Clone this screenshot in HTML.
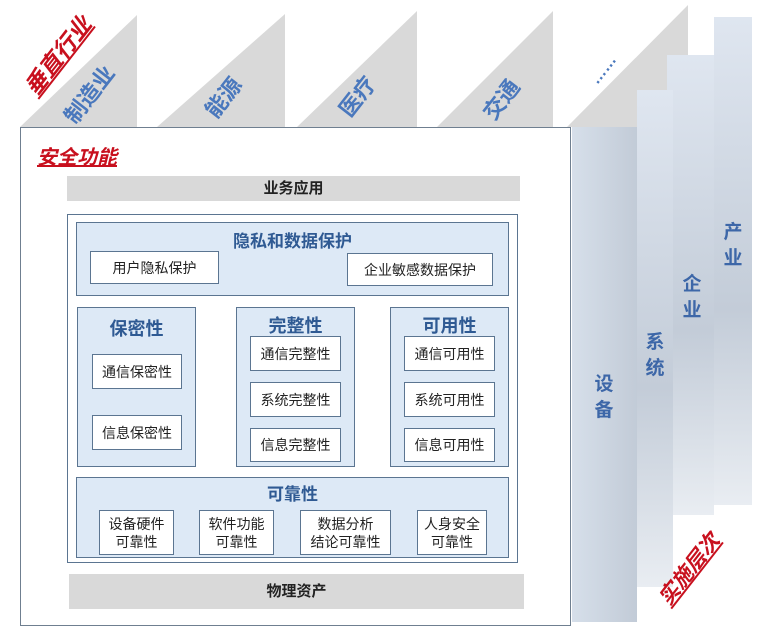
<!DOCTYPE html>
<html><head><meta charset="utf-8"><style>
body{margin:0;width:776px;height:637px;background:#fff;position:relative;overflow:hidden;font-family:"Liberation Sans","Noto Sans CJK SC",sans-serif}
.a{position:absolute;box-sizing:border-box}
.bx{position:absolute;box-sizing:border-box;border:1.5px solid #5b7591;background:#fff;color:#222;font-size:14px;display:flex;align-items:center;justify-content:center;text-align:center;line-height:18px}
.pn{position:absolute;box-sizing:border-box;border:1.5px solid #5b7591;background:#dde9f6}
.t{position:absolute;color:#2f5a93;font-weight:bold;font-size:18px;text-align:center}
.rot{position:absolute;color:#4a78bd;font-weight:bold;font-size:22px;transform:translate(-50%,-50%) rotate(-52deg);white-space:nowrap;line-height:24px}
.vt{position:absolute;color:#3d67a8;font-weight:bold;font-size:19px;width:22px;line-height:26px;text-align:center}
</style></head><body>
<svg class="a" style="left:0;top:0" width="776" height="637">
<defs>
<linearGradient id="g" x1="0" y1="0" x2="0" y2="1"><stop offset="0" stop-color="#dfe6f0"/><stop offset="0.6" stop-color="#c3ccd8"/><stop offset="1" stop-color="#e9edf2"/></linearGradient>
<linearGradient id="g2" x1="0" y1="0" x2="1" y2="0"><stop offset="0" stop-color="#d6dfea"/><stop offset="1" stop-color="#c2cbd7"/></linearGradient>
</defs>
<polygon points="20,127 137,15 137,127" fill="#d9d9d9"/>
<polygon points="157,127 285,14 285,127" fill="#d9d9d9"/>
<polygon points="297,127 417,11 417,127" fill="#d9d9d9"/>
<polygon points="437,127 553,11 553,127" fill="#d9d9d9"/>
<polygon points="567,127 688,5 688,127" fill="#d9d9d9"/>
<rect x="714" y="17" width="38" height="488" fill="url(#g)"/>
<rect x="667" y="55" width="47" height="460" fill="url(#g)"/>
<rect x="637" y="90" width="36" height="497" fill="url(#g)"/>
<rect x="572" y="127" width="65" height="495" fill="url(#g2)"/>
</svg>
<div class="rot" style="left:58px;top:56px;color:#c8101e;font-style:italic;text-decoration:underline;font-size:23px">垂直行业</div>
<div class="rot" style="left:90px;top:95px">制造业</div>
<div class="rot" style="left:224px;top:98px">能源</div>
<div class="rot" style="left:358px;top:97px">医疗</div>
<div class="rot" style="left:502px;top:100px">交通</div>
<div class="rot" style="left:604px;top:70px;font-size:16px">……</div>
<div class="vt" style="left:593px;top:372px">设备</div>
<div class="vt" style="left:644px;top:330px">系统</div>
<div class="vt" style="left:681px;top:272px">企业</div>
<div class="vt" style="left:722px;top:220px">产业</div>
<div class="rot" style="left:690px;top:570px;color:#c8101e;font-style:italic;text-decoration:underline;font-size:21px">实施层次</div>

<div class="a" style="left:20px;top:127px;width:551px;height:499px;border:1.5px solid #6f7f90;background:#fff"></div>
<div class="a" style="left:37px;top:141px;color:#c8101e;font-style:italic;font-weight:bold;font-size:20px;text-decoration:underline">安全功能</div>
<div class="a" style="left:67px;top:176px;width:453px;height:25px;background:#d9d9d9;font-weight:bold;font-size:15px;text-align:center;line-height:25px;color:#222">业务应用</div>
<div class="pn" style="left:67px;top:214px;width:451px;height:349px;background:#fff"></div>
<div class="pn" style="left:76px;top:222px;width:433px;height:74px"></div>
<div class="t" style="left:76px;top:227px;width:433px;font-size:17px">隐私和数据保护</div>
<div class="bx" style="left:90px;top:251px;width:129px;height:33px">用户隐私保护</div>
<div class="bx" style="left:347px;top:253px;width:146px;height:33px">企业敏感数据保护</div>

<div class="pn" style="left:77px;top:307px;width:119px;height:160px"></div>
<div class="t" style="left:77px;top:315px;width:119px">保密性</div>
<div class="bx" style="left:92px;top:354px;width:90px;height:35px">通信保密性</div>
<div class="bx" style="left:92px;top:415px;width:90px;height:35px">信息保密性</div>

<div class="pn" style="left:236px;top:307px;width:119px;height:160px"></div>
<div class="t" style="left:236px;top:312px;width:119px">完整性</div>
<div class="bx" style="left:250px;top:336px;width:91px;height:35px">通信完整性</div>
<div class="bx" style="left:250px;top:382px;width:91px;height:35px">系统完整性</div>
<div class="bx" style="left:250px;top:428px;width:91px;height:34px">信息完整性</div>

<div class="pn" style="left:390px;top:307px;width:119px;height:160px"></div>
<div class="t" style="left:390px;top:312px;width:119px">可用性</div>
<div class="bx" style="left:404px;top:336px;width:91px;height:35px">通信可用性</div>
<div class="bx" style="left:404px;top:382px;width:91px;height:35px">系统可用性</div>
<div class="bx" style="left:404px;top:428px;width:91px;height:34px">信息可用性</div>

<div class="pn" style="left:76px;top:477px;width:433px;height:81px"></div>
<div class="t" style="left:76px;top:480px;width:433px;font-size:17px">可靠性</div>
<div class="bx" style="left:99px;top:510px;width:75px;height:45px">设备硬件<br>可靠性</div>
<div class="bx" style="left:199px;top:510px;width:75px;height:45px">软件功能<br>可靠性</div>
<div class="bx" style="left:300px;top:510px;width:91px;height:45px">数据分析<br>结论可靠性</div>
<div class="bx" style="left:417px;top:510px;width:70px;height:45px">人身安全<br>可靠性</div>

<div class="a" style="left:69px;top:574px;width:455px;height:35px;background:#d9d9d9;font-weight:bold;font-size:15px;text-align:center;line-height:35px;color:#222">物理资产</div>
</body></html>
